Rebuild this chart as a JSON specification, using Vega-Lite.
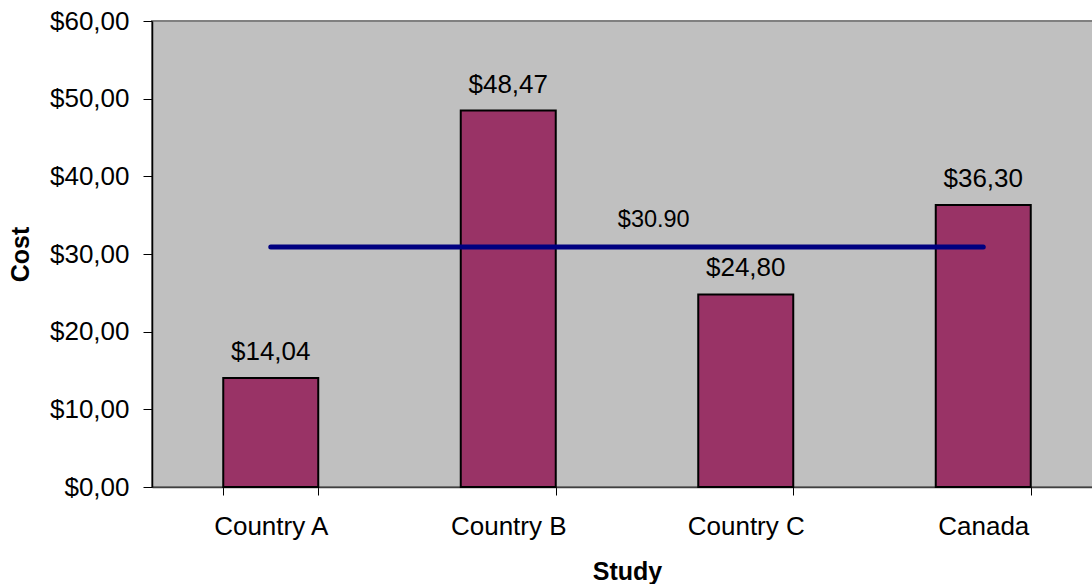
{
  "$schema": "https://vega.github.io/schema/vega-lite/v6.json",
  "autosize": {"type": "none"},
  "padding": {"left": 152, "top": 21, "right": 0, "bottom": 97},
  "width": 950,
  "height": 466,
  "background": "white",
  "datasets": {
    "costs": [
      {"study": "Country A", "cost": 14.04, "avg": 30.9},
      {"study": "Country B", "cost": 48.47, "avg": 30.9},
      {"study": "Country C", "cost": 24.80, "avg": 30.9},
      {"study": "Canada", "cost": 36.30, "avg": 30.9}
    ],
    "average": [
      {"study": "Country C", "avg": 30.9}
    ]
  },
  "data": {"name": "costs"},
  "encoding": {
    "x": {
      "field": "study",
      "type": "nominal",
      "sort": null,
      "title": "Study",
      "scale": {"paddingInner": 0.6, "paddingOuter": 0.3},
      "axis": {
        "labelAngle": 0,
        "tickBand": "extent",
        "tickSize": 8,
        "tickColor": "black",
        "labelPadding": 18,
        "labelFontSize": 26,
        "labelColor": "black",
        "domainColor": "#404040",
        "domainWidth": 1.5,
        "titleFontSize": 25,
        "titlePadding": 20
      }
    }
  },
  "layer": [
    {
      "mark": {"type": "bar", "color": "#993366", "stroke": "black", "strokeWidth": 2},
      "encoding": {
        "y": {
          "field": "cost",
          "type": "quantitative",
          "title": "Cost",
          "scale": {"domain": [0, 60]},
          "axis": {
            "values": [0, 10, 20, 30, 40, 50, 60],
            "grid": false,
            "labelExpr": "replace(format(datum.value, '$.2f'), '.', ',')",
            "tickSize": 9,
            "tickColor": "black",
            "labelPadding": 14,
            "labelFontSize": 26,
            "labelColor": "black",
            "domainColor": "black",
            "domainWidth": 1.5,
            "titleFontSize": 25,
            "titlePadding": 16
          }
        }
      }
    },
    {
      "transform": [
        {"calculate": "replace(format(datum.cost, '$.2f'), '.', ',')", "as": "label"}
      ],
      "mark": {"type": "text", "baseline": "alphabetic", "dy": -18, "fontSize": 26, "color": "black"},
      "encoding": {
        "y": {"field": "cost", "type": "quantitative"},
        "text": {"field": "label"}
      }
    },
    {
      "mark": {"type": "line", "color": "#000080", "strokeWidth": 5, "strokeCap": "round"},
      "encoding": {
        "y": {"field": "avg", "type": "quantitative"}
      }
    },
    {
      "data": {"name": "average"},
      "mark": {"type": "text", "baseline": "alphabetic", "dy": -20, "dx": -92, "fontSize": 23.5, "color": "black"},
      "encoding": {
        "y": {"field": "avg", "type": "quantitative"},
        "text": {"field": "avg", "format": "$.2f"}
      }
    }
  ],
  "config": {
    "font": "Liberation Sans",
    "view": {"fill": "#C0C0C0", "stroke": "#808080", "strokeWidth": 2},
    "axis": {"labelFont": "Liberation Sans", "titleFont": "Liberation Sans", "titleColor": "black", "titleFontWeight": "bold"}
  }
}
